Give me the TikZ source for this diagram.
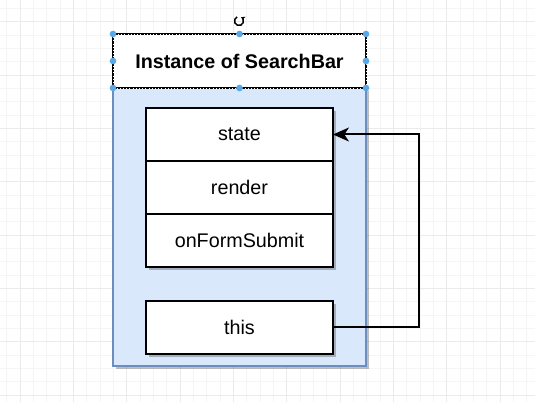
\documentclass[tikz,border=0pt]{standalone}
\usepackage{fontspec}
\setmainfont{Liberation Sans}
\usetikzlibrary{positioning,shadows,arrows.meta}
\definecolor{instfill}{HTML}{DAE8FC}
\definecolor{instline}{HTML}{6C8EBF}
\definecolor{handleblue}{HTML}{5AA7E8}
\tikzset{
    gridminor/.style={draw=black!4, line width=0.6pt},
    gridmajor/.style={draw=black!8, line width=0.6pt},
    hdrbox/.style={draw=black, fill=white, line width=1.6pt, minimum width=189.75pt, minimum height=40.5pt, outer sep=0pt, font=\fontsize{14.8}{17}\selectfont\bfseries},
    selmark/.style={draw=white, line width=0.5pt, dash pattern=on 0.8pt off 1.6pt},
    container/.style={draw=instline, fill=instfill, line width=1.5pt, minimum width=189.75pt, minimum height=208.5pt, outer sep=0pt, drop shadow={shadow xshift=2.5pt, shadow yshift=-2.5pt, fill=black, opacity=0.25}},
    fieldbox/.style={draw=black, fill=white, line width=1.5pt, minimum width=140.25pt, minimum height=39.75pt, outer sep=0pt, font=\fontsize{14.8}{17}\selectfont, drop shadow={shadow xshift=2.5pt, shadow yshift=-2.5pt, fill=black, opacity=0.25}},
    handle/.style={circle, fill=handleblue, inner sep=0pt, minimum size=5pt},
    link/.style={draw=black, line width=1.5pt, -{Stealth[length=12pt, width=10.5pt, inset=3.5pt]}}
}
\begin{document}
\begin{tikzpicture}[x=0.75pt, y=-0.75pt]
    \useasboundingbox (0,0) rectangle (535,402);
    \fill[white] (0,0) rectangle (535,402);
    % grid
    \foreach \gx in {0,...,39} {
        \draw[gridminor] (6.667+13.333*\gx,0) -- (6.667+13.333*\gx,402);
    }
    \foreach \gy in {0,...,29} {
        \draw[gridminor] (0,8.3+13.333*\gy) -- (535,8.3+13.333*\gy);
    }
    \foreach \gx in {0,...,9} {
        \draw[gridmajor] (20+53.333*\gx,0) -- (20+53.333*\gx,402);
    }
    \foreach \gy in {0,...,7} {
        \draw[gridmajor] (0,21.7+53.333*\gy) -- (535,21.7+53.333*\gy);
    }
    % instance
    \node[container] (inst) at (239.5,227) {};
    \node[hdrbox] (hdr) at (239.5,61) {Instance of SearchBar};
    \draw[selmark] (hdr.north west) rectangle (hdr.south east);
    \node[fieldbox] (state) at (239.5,134.5) {state};
    \node[fieldbox, below=0pt of state] (render) {render};
    \node[fieldbox, below=0pt of render] (submit) {onFormSubmit};
    \node[fieldbox] (this) at (239.5,327.5) {this};
    \draw[link] (this.east) -- ++(86,0) |- (state.east);
    % selection handles
    \foreach \a in {north west, north, north east, west, east, south west, south, south east} {
        \node[handle] at (hdr.\a) {};
    }
    \coordinate (rot) at (239,21);
    \draw[line width=1.1pt, -{Stealth[length=2.8pt, width=3.5pt]}] ([shift={(115:3.4pt)}]rot) arc[start angle=115, end angle=420, radius=3.4pt];
\end{tikzpicture}
\end{document}
